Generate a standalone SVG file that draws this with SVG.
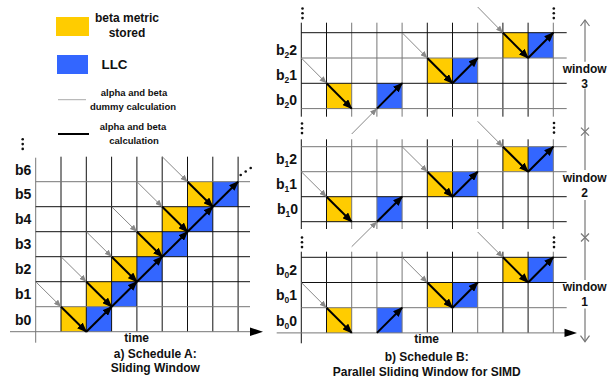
<svg xmlns="http://www.w3.org/2000/svg" width="608" height="377" viewBox="0 0 608 377">
<style>
text{font-family:"Liberation Sans",Arial,sans-serif;font-weight:bold;fill:#111}
.lbl{font-size:14px}
.cap{font-size:12px;text-anchor:middle}
.sm{font-size:9.5px;text-anchor:middle}
.gk{stroke:#111;stroke-width:1}
.gg{stroke:#777;stroke-width:1}
.yl{fill:#FFCC00}
.bl{fill:#3366FF}
.ga{stroke:#888;stroke-width:1;marker-end:url(#ah-g)}
.ba{stroke:#000;stroke-width:2;marker-end:url(#ah-b)}
.win{stroke:#777;stroke-width:1.2;fill:none}
.dot{fill:#111}
</style>
<defs>
<marker id="ah-g" markerUnits="userSpaceOnUse" markerWidth="7" markerHeight="6" refX="7" refY="3" orient="auto"><path d="M0,0 L7,3 L0,6 z" fill="#888"/></marker>
<marker id="ah-b" markerUnits="userSpaceOnUse" markerWidth="10" markerHeight="8" refX="9" refY="4" orient="auto"><path d="M0,0 L10,4 L0,8 z" fill="#000"/></marker>
<g id="vdots"><circle cx="0" cy="0" r="1.3"/><circle cx="0" cy="4.8" r="1.3"/><circle cx="0" cy="9.6" r="1.3"/></g>
</defs>

<g id="legend">
<rect class="yl" x="56" y="17" width="33" height="19"/>
<text x="127" y="22" class="cap">beta metric</text>
<text x="127" y="37" class="cap">stored</text>
<rect class="bl" x="57" y="55" width="31" height="19"/>
<text x="101.5" y="69" font-size="13.4px">LLC</text>
<line x1="58" y1="99.7" x2="86" y2="99.7" stroke="#aaa" stroke-width="1"/>
<text x="134" y="96" class="sm">alpha and beta</text>
<text x="133" y="110" class="sm">dummy calculation</text>
<line x1="58" y1="134" x2="89" y2="134" stroke="#000" stroke-width="2"/>
<text x="133" y="130" class="sm">alpha and beta</text>
<text x="134" y="143.5" class="sm">calculation</text>
</g>

<g id="scheduleA">
<g class="dot"><use href="#vdots" x="22.7" y="139.3"/></g>
<g class="dot"><circle cx="240.7" cy="175" r="1.3"/><circle cx="245.7" cy="171.5" r="1.3"/><circle cx="250.7" cy="168" r="1.3"/></g>
<rect class="yl" x="61" y="306.7" width="25.3" height="25"/>
<rect class="bl" x="86.3" y="306.7" width="25.3" height="25"/>
<rect class="yl" x="86.3" y="281.7" width="25.3" height="25"/>
<rect class="bl" x="111.6" y="281.7" width="25.3" height="25"/>
<rect class="yl" x="111.6" y="256.7" width="25.3" height="25"/>
<rect class="bl" x="136.9" y="256.7" width="25.3" height="25"/>
<rect class="yl" x="136.9" y="231.7" width="25.3" height="25"/>
<rect class="bl" x="162.2" y="231.7" width="25.3" height="25"/>
<rect class="yl" x="162.2" y="206.7" width="25.3" height="25"/>
<rect class="bl" x="187.5" y="206.7" width="25.3" height="25"/>
<rect class="yl" x="187.5" y="181.7" width="25.3" height="25"/>
<rect class="bl" x="212.8" y="181.7" width="25.3" height="25"/>
<line class="gg" x1="35.7" y1="157.7" x2="35.7" y2="342.7"/>
<line class="gk" x1="61" y1="156.7" x2="61" y2="331.7"/>
<line class="gk" x1="86.3" y1="156.7" x2="86.3" y2="331.7"/>
<line class="gk" x1="111.6" y1="156.7" x2="111.6" y2="331.7"/>
<line class="gk" x1="136.9" y1="156.7" x2="136.9" y2="331.7"/>
<line class="gk" x1="162.2" y1="156.7" x2="162.2" y2="331.7"/>
<line class="gk" x1="187.5" y1="156.7" x2="187.5" y2="331.7"/>
<line class="gk" x1="212.8" y1="156.7" x2="212.8" y2="331.7"/>
<line class="gk" x1="238.1" y1="156.7" x2="238.1" y2="331.7"/>
<line class="gg" x1="35.7" y1="181.7" x2="250" y2="181.7"/>
<line class="gk" x1="35.7" y1="206.7" x2="250" y2="206.7"/>
<line class="gk" x1="35.7" y1="231.7" x2="250" y2="231.7"/>
<line class="gk" x1="35.7" y1="256.7" x2="250" y2="256.7"/>
<line class="gk" x1="35.7" y1="281.7" x2="250" y2="281.7"/>
<line class="gg" x1="35.7" y1="306.7" x2="250" y2="306.7"/>
<line class="gg" x1="10" y1="331.7" x2="252" y2="331.7"/>
<polygon points="250,327.5 263,331.7 250,336" fill="#000"/>
<text x="15" y="175" class="lbl">b6</text>
<text x="15" y="199" class="lbl">b5</text>
<text x="15" y="224" class="lbl">b4</text>
<text x="15" y="248.5" class="lbl">b3</text>
<text x="15" y="273.5" class="lbl">b2</text>
<text x="15" y="298.5" class="lbl">b1</text>
<text x="15" y="325" class="lbl">b0</text>
<text x="136.7" y="342" class="cap">time</text>
<text x="155.3" y="358" class="cap">a) Schedule A:</text>
<text x="155.3" y="372" class="cap">Sliding Window</text>
</g>

<g id="scheduleB">
<g class="dot">
<use href="#vdots" x="302.5" y="8.5"/><use href="#vdots" x="553.8" y="8.5"/>
<use href="#vdots" x="302" y="123.5"/><use href="#vdots" x="554" y="123"/>
<use href="#vdots" x="302" y="237.5"/><use href="#vdots" x="554" y="237.5"/>
</g>
<g id="window3">
<rect class="yl" x="326.5" y="83.3" width="25.2" height="25.3"/>
<rect class="bl" x="376.9" y="83.3" width="25.2" height="25.3"/>
<rect class="yl" x="427.3" y="58" width="25.2" height="25.3"/>
<rect class="bl" x="452.5" y="58" width="25.2" height="25.3"/>
<rect class="yl" x="502.9" y="32.7" width="25.2" height="25.3"/>
<rect class="bl" x="528.1" y="32.7" width="25.2" height="25.3"/>
<g>
<line class="gk" x1="301.3" y1="22.7" x2="301.3" y2="116.7"/>
<line class="gk" x1="326.5" y1="22.7" x2="326.5" y2="116.7"/>
<line class="gg" x1="351.7" y1="22.7" x2="351.7" y2="116.7"/>
<line class="gg" x1="376.9" y1="22.7" x2="376.9" y2="116.7"/>
<line class="gg" x1="402.1" y1="22.7" x2="402.1" y2="116.7"/>
<line class="gk" x1="427.3" y1="22.7" x2="427.3" y2="116.7"/>
<line class="gk" x1="452.5" y1="22.7" x2="452.5" y2="116.7"/>
<line class="gg" x1="477.7" y1="22.7" x2="477.7" y2="116.7"/>
<line class="gk" x1="502.9" y1="22.7" x2="502.9" y2="116.7"/>
<line class="gk" x1="528.1" y1="22.7" x2="528.1" y2="116.7"/>
<line class="gg" x1="553.3" y1="22.7" x2="553.3" y2="116.7"/>
<line class="gk" x1="301.3" y1="32.7" x2="566.7" y2="32.7"/>
<line class="gg" x1="301.3" y1="58" x2="566.7" y2="58"/>
<line class="gk" x1="301.3" y1="83.3" x2="566.7" y2="83.3"/>
<line class="gg" x1="301.3" y1="108.6" x2="566.7" y2="108.6"/>
</g>
<text x="276" y="54.5" class="lbl">b<tspan font-size="8.5" dy="3">2</tspan><tspan dy="-3">2</tspan></text>
<text x="276" y="79.5" class="lbl">b<tspan font-size="8.5" dy="3">2</tspan><tspan dy="-3">1</tspan></text>
<text x="276" y="104.5" class="lbl">b<tspan font-size="8.5" dy="3">2</tspan><tspan dy="-3">0</tspan></text>
</g>
<g id="window2">
<rect class="yl" x="326.5" y="196.7" width="25.2" height="25"/>
<rect class="bl" x="376.9" y="196.7" width="25.2" height="25"/>
<rect class="yl" x="427.3" y="171.7" width="25.2" height="25"/>
<rect class="bl" x="452.5" y="171.7" width="25.2" height="25"/>
<rect class="yl" x="502.9" y="146.7" width="25.2" height="25"/>
<rect class="bl" x="528.1" y="146.7" width="25.2" height="25"/>
<g>
<line class="gk" x1="301.3" y1="139.3" x2="301.3" y2="229"/>
<line class="gk" x1="326.5" y1="139.3" x2="326.5" y2="229"/>
<line class="gg" x1="351.7" y1="139.3" x2="351.7" y2="229"/>
<line class="gg" x1="376.9" y1="139.3" x2="376.9" y2="229"/>
<line class="gg" x1="402.1" y1="139.3" x2="402.1" y2="229"/>
<line class="gk" x1="427.3" y1="139.3" x2="427.3" y2="229"/>
<line class="gk" x1="452.5" y1="139.3" x2="452.5" y2="229"/>
<line class="gg" x1="477.7" y1="139.3" x2="477.7" y2="229"/>
<line class="gk" x1="502.9" y1="139.3" x2="502.9" y2="229"/>
<line class="gk" x1="528.1" y1="139.3" x2="528.1" y2="229"/>
<line class="gg" x1="553.3" y1="139.3" x2="553.3" y2="229"/>
<line class="gg" x1="301.3" y1="146.7" x2="566.7" y2="146.7"/>
<line class="gg" x1="301.3" y1="171.7" x2="566.7" y2="171.7"/>
<line class="gk" x1="301.3" y1="196.7" x2="566.7" y2="196.7"/>
<line class="gk" x1="301.3" y1="221.7" x2="566.7" y2="221.7"/>
</g>
<text x="276" y="163.5" class="lbl">b<tspan font-size="8.5" dy="3">1</tspan><tspan dy="-3">2</tspan></text>
<text x="276" y="188.5" class="lbl">b<tspan font-size="8.5" dy="3">1</tspan><tspan dy="-3">1</tspan></text>
<text x="277" y="213.5" class="lbl">b<tspan font-size="8.5" dy="3">1</tspan><tspan dy="-3">0</tspan></text>
</g>
<g id="window1">
<rect class="yl" x="326.5" y="307.7" width="25.2" height="25.2"/>
<rect class="bl" x="376.9" y="307.7" width="25.2" height="25.2"/>
<rect class="yl" x="427.3" y="282.5" width="25.2" height="25.2"/>
<rect class="bl" x="452.5" y="282.5" width="25.2" height="25.2"/>
<rect class="yl" x="502.9" y="257.3" width="25.2" height="25.2"/>
<rect class="bl" x="528.1" y="257.3" width="25.2" height="25.2"/>
<g>
<line class="gk" x1="301.3" y1="251.7" x2="301.3" y2="343.3"/>
<line class="gk" x1="326.5" y1="251.7" x2="326.5" y2="332.9"/>
<line class="gg" x1="351.7" y1="251.7" x2="351.7" y2="332.9"/>
<line class="gg" x1="376.9" y1="251.7" x2="376.9" y2="332.9"/>
<line class="gg" x1="402.1" y1="251.7" x2="402.1" y2="332.9"/>
<line class="gk" x1="427.3" y1="251.7" x2="427.3" y2="332.9"/>
<line class="gk" x1="452.5" y1="251.7" x2="452.5" y2="332.9"/>
<line class="gg" x1="477.7" y1="251.7" x2="477.7" y2="332.9"/>
<line class="gk" x1="502.9" y1="251.7" x2="502.9" y2="332.9"/>
<line class="gk" x1="528.1" y1="251.7" x2="528.1" y2="332.9"/>
<line class="gg" x1="553.3" y1="251.7" x2="553.3" y2="332.9"/>
<line class="gk" x1="301.3" y1="257.3" x2="566.7" y2="257.3"/>
<line class="gk" x1="301.3" y1="282.5" x2="566.7" y2="282.5"/>
<line class="gg" x1="301.3" y1="307.7" x2="566.7" y2="307.7"/>
<line class="gg" x1="276.7" y1="332.9" x2="566" y2="332.9"/>
<polygon points="564.5,328.7 577,332.9 564.5,337.1" fill="#000"/>
</g>
<text x="276" y="275" class="lbl">b<tspan font-size="8.5" dy="3">0</tspan><tspan dy="-3">2</tspan></text>
<text x="276" y="300" class="lbl">b<tspan font-size="8.5" dy="3">0</tspan><tspan dy="-3">1</tspan></text>
<text x="276" y="325.5" class="lbl">b<tspan font-size="8.5" dy="3">0</tspan><tspan dy="-3">0</tspan></text>
</g>
<g id="window-axis">
<path class="win" d="M585,20 V61.7 M585,88.5 V170 M585,200 V280 M585,308.5 V341.7"/>
<path class="win" d="M580.5,26 L585,20 L589.5,26 M580.5,335.7 L585,341.7 L589.5,335.7"/>
<path class="win" d="M581,127.7 L589,135.7 M581,135.7 L589,127.7 M581,233.5 L589,241.5 M581,241.5 L589,233.5"/>
<text x="584.7" y="72.7" class="cap">window</text>
<text x="584.7" y="87.5" class="cap">3</text>
<text x="584.7" y="181.7" class="cap">window</text>
<text x="584.7" y="196.7" class="cap">2</text>
<text x="584.7" y="290.5" class="cap">window</text>
<text x="584.7" y="305.5" class="cap">1</text>
</g>
<text x="426.7" y="343" class="cap">time</text>
<text x="426.7" y="360.5" class="cap">b) Schedule B:</text>
<text x="426.7" y="375.5" class="cap">Parallel Sliding Window for SIMD</text>
</g>

<g id="connectors">
<line class="ga" x1="35.7" y1="281.7" x2="61" y2="306.7"/>
<line class="ga" x1="61" y1="256.7" x2="86.3" y2="281.7"/>
<line class="ga" x1="86.3" y1="231.7" x2="111.6" y2="256.7"/>
<line class="ga" x1="111.6" y1="206.7" x2="136.9" y2="231.7"/>
<line class="ga" x1="136.9" y1="181.7" x2="162.2" y2="206.7"/>
<line class="ga" x1="162.2" y1="156.7" x2="187.5" y2="181.7"/>
<line class="ba" x1="61" y1="306.7" x2="86.3" y2="331.7"/>
<line class="ba" x1="86.3" y1="281.7" x2="111.6" y2="306.7"/>
<line class="ba" x1="111.6" y1="256.7" x2="136.9" y2="281.7"/>
<line class="ba" x1="136.9" y1="231.7" x2="162.2" y2="256.7"/>
<line class="ba" x1="162.2" y1="206.7" x2="187.5" y2="231.7"/>
<line class="ba" x1="187.5" y1="181.7" x2="212.8" y2="206.7"/>
<line class="ba" x1="86.3" y1="331.7" x2="111.6" y2="306.7"/>
<line class="ba" x1="111.6" y1="306.7" x2="136.9" y2="281.7"/>
<line class="ba" x1="136.9" y1="281.7" x2="162.2" y2="256.7"/>
<line class="ba" x1="162.2" y1="256.7" x2="187.5" y2="231.7"/>
<line class="ba" x1="187.5" y1="231.7" x2="212.8" y2="206.7"/>
<line class="ba" x1="212.8" y1="206.7" x2="238.1" y2="181.7"/>

<line class="ga" x1="301.3" y1="58" x2="326.5" y2="83.3"/>
<line class="ba" x1="326.5" y1="83.3" x2="351.7" y2="108.6"/>
<line class="ba" x1="376.9" y1="108.6" x2="402.1" y2="83.3"/>
<line class="ga" x1="402.1" y1="32.7" x2="427.3" y2="58"/>
<line class="ba" x1="427.3" y1="58" x2="452.5" y2="83.3"/>
<line class="ba" x1="452.5" y1="83.3" x2="477.7" y2="58"/>
<line class="ga" x1="477.7" y1="7" x2="502.9" y2="32.7"/>
<line class="ba" x1="502.9" y1="32.7" x2="528.1" y2="58"/>
<line class="ba" x1="528.1" y1="58" x2="553.3" y2="32.7"/>
<line class="ga" x1="351.7" y1="134" x2="376.9" y2="108.6"/>

<line class="ga" x1="301.3" y1="171.7" x2="326.5" y2="196.7"/>
<line class="ba" x1="326.5" y1="196.7" x2="351.7" y2="221.7"/>
<line class="ba" x1="376.9" y1="221.7" x2="402.1" y2="196.7"/>
<line class="ga" x1="402.1" y1="146.7" x2="427.3" y2="171.7"/>
<line class="ba" x1="427.3" y1="171.7" x2="452.5" y2="196.7"/>
<line class="ba" x1="452.5" y1="196.7" x2="477.7" y2="171.7"/>
<line class="ga" x1="477.7" y1="121.3" x2="502.9" y2="146.7"/>
<line class="ba" x1="502.9" y1="146.7" x2="528.1" y2="171.7"/>
<line class="ba" x1="528.1" y1="171.7" x2="553.3" y2="146.7"/>
<line class="ga" x1="351.7" y1="246.7" x2="376.9" y2="221.7"/>

<line class="ga" x1="301.3" y1="282.5" x2="326.5" y2="307.7"/>
<line class="ba" x1="326.5" y1="307.7" x2="351.7" y2="332.9"/>
<line class="ba" x1="376.9" y1="332.9" x2="402.1" y2="307.7"/>
<line class="ga" x1="402.1" y1="257.3" x2="427.3" y2="282.5"/>
<line class="ba" x1="427.3" y1="282.5" x2="452.5" y2="307.7"/>
<line class="ba" x1="452.5" y1="307.7" x2="477.7" y2="282.5"/>
<line class="ga" x1="477.7" y1="232" x2="502.9" y2="257.3"/>
<line class="ba" x1="502.9" y1="257.3" x2="528.1" y2="282.5"/>
<line class="ba" x1="528.1" y1="282.5" x2="553.3" y2="257.3"/>
</g>
</svg>
